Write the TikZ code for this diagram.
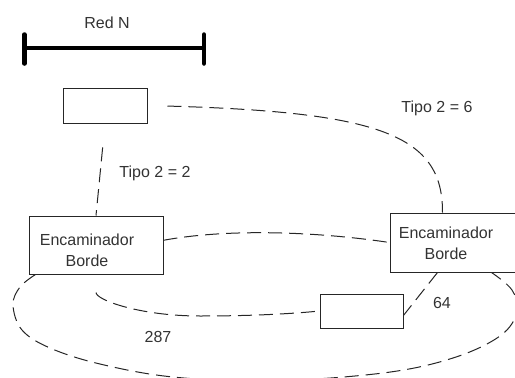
\documentclass[tikz,border=0pt]{standalone}
\usepackage{fontspec}
\setmainfont{Liberation Sans}
\usetikzlibrary{calc}
\begin{document}
\begin{tikzpicture}[x=1pt,y=-1pt,
  box/.style={draw=black!85,line width=1pt,inner sep=0pt,fill=none},
  lbl/.style={text=black!80,font=\fontsize{16}{21}\selectfont,inner sep=0pt,align=center},
  dline/.style={draw=black!85,line width=1pt,dash pattern=on 14pt off 7pt},
  bar/.style={line width=4.5pt,line cap=round}]
\useasboundingbox (0,0) rectangle (515,378);
% network bar
\coordinate (b1) at (24.5,47.5);
\coordinate (b2) at (204,47.5);
\draw[line width=4pt] (b1) -- (b2);
\draw[bar] ($(b1)+(0,-13)$) -- ($(b1)+(0,16)$);
\draw[bar] ($(b2)+(0,-13)$) -- ($(b2)+(0,16)$);
\node[lbl] (redn) at (107,23) {Red N};
% boxes
\node[box,minimum width=84pt,minimum height=35pt] (tr) at (105,105.5) {};
\node[box,minimum width=134pt,minimum height=58pt] (rl) at (96,245) {};
\node[box,minimum width=128pt,minimum height=59pt] (rr) at (454,242.5) {};
\node[box,minimum width=83pt,minimum height=34pt] (sr) at (361.5,311) {};
\node[lbl] (rlt) at (87,250) {Encaminador\\Borde};
\node[lbl] (rrt) at (446,243) {Encaminador\\Borde};
% labels
\node[lbl] (t22) at (155,173) {Tipo 2 = 2};
\node[lbl] (t26) at (437,108) {Tipo 2 = 6};
\node[lbl] (n287) at (158,337) {287};
\node[lbl] (n64) at (442,303) {64};
% anchor points
\coordinate (rrn) at ($(rr.north west)+(53,0)$);
\coordinate (rrs) at ($(rr.south west)+(48,0)$);
\coordinate (e1) at ($(rl.south west)+(7,0)$);
\coordinate (e2) at ($(rr.south west)+(102,0)$);
% connectors
\draw[dline,shorten <=24pt] (tr.south) -- (rl.north);
\draw[dline,shorten <=20pt] (tr.east) .. controls (380,112) and (443,135) .. (rrn);
\draw[dline] (rl.4) .. controls (230,228) and (320,232) .. (rr.west);
\draw[dline,shorten <=18pt] (rl.south) .. controls (96,300) and (140,316) .. (200,316)
   .. controls (260,316) and (300,313) .. (sr.west);
\draw[dline] (rrs) -- (sr.-6);
\draw[dline] plot[smooth,tension=0.6] coordinates {(e1) (20,287) (13,305) (22,330) (50,348) (100,364) (173,377) (270,381) (383,373) (453,358) (500,336) (517,312) (512,290) (e2)};
\end{tikzpicture}
\end{document}
